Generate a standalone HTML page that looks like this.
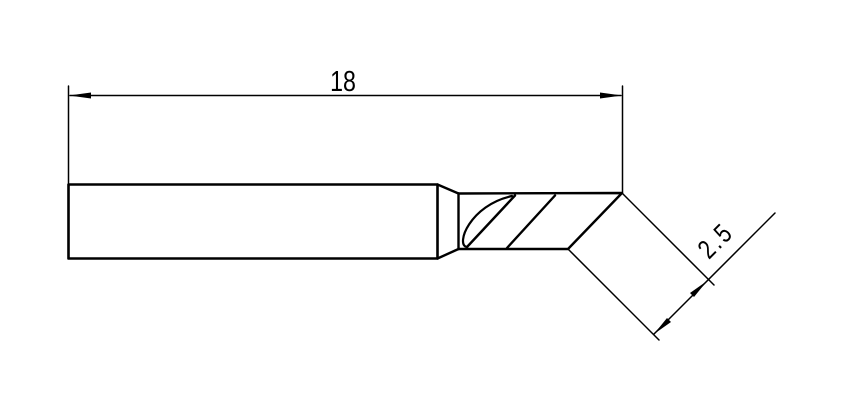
<!DOCTYPE html>
<html><head><style>
html,body{margin:0;padding:0;background:#fff;}
svg{display:block;}
</style></head><body>
<svg width="844" height="410" viewBox="0 0 844 410" xmlns="http://www.w3.org/2000/svg">
<g fill="none" stroke="#000" stroke-linecap="round" stroke-linejoin="round">
  <path d="M68.5 184.5 H437.5 V258.5 H68.5 Z" stroke-width="2.6"/>
  <path d="M437.5 184.5 L458.5 193.5 M437.5 258.5 L458.5 249" stroke-width="2.4"/>
  <line x1="458.5" y1="193.5" x2="458.5" y2="249" stroke-width="2.4"/>
  <path d="M458.5 193.5 L622 193 L568 249 L458.5 249" stroke-width="2.4"/>
  <path d="M467 247 L515 195.5 M507 248 L555 195.5" stroke-width="2.4"/>
  <path d="M467 247 C455 245, 470 205, 512 196" stroke-width="2.2"/>
  <line x1="68.5" y1="86" x2="68.5" y2="184" stroke-width="1.5"/>
  <line x1="622.5" y1="86" x2="622.5" y2="193" stroke-width="1.5"/>
  <line x1="622" y1="193" x2="714" y2="285" stroke-width="1.5"/>
  <line x1="568" y1="249" x2="659" y2="340" stroke-width="1.5"/>
  <line x1="70" y1="95.5" x2="621" y2="95.5" stroke-width="1.5"/>
  <line x1="654" y1="334" x2="775" y2="213" stroke-width="1.5"/>
</g>
<g fill="#000">
  <polygon points="69,95.5 91,92.5 91,98.5"/>
  <polygon points="622,95.5 600,92.5 600,98.5"/>
  <polygon points="707,281 694,297 690,293"/>
  <polygon points="654,334 667,318 671,322"/>
</g>
<text x="0" y="0" font-family="Liberation Sans, sans-serif" font-size="29" text-anchor="middle" fill="#000" transform="translate(343,91) scale(0.8,1)">18</text>
<text x="0" y="0" font-family="Liberation Sans, sans-serif" font-size="27" letter-spacing="3" text-anchor="middle" fill="#000" transform="translate(722,247) rotate(-45) scale(0.8,1)">2.5</text>
</svg>
</body></html>
